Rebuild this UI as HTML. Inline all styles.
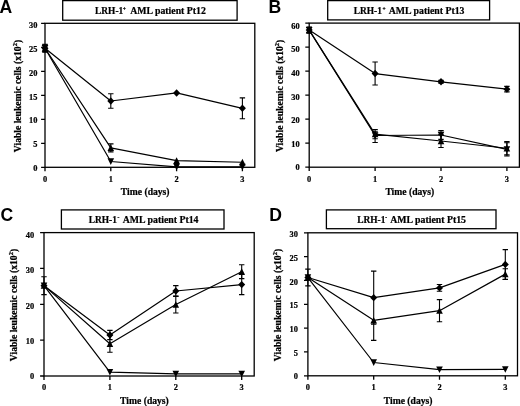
<!DOCTYPE html>
<html><head><meta charset="utf-8"><style>
html,body{margin:0;padding:0;background:#fff;}
body{width:520px;height:406px;overflow:hidden;}
svg{display:block;will-change:transform;}
text{font-family:"Liberation Serif", serif;font-weight:bold;fill:#000;stroke:#000;stroke-width:0.22px;}
.tl{font-size:8.4px;}
.at{font-size:9.65px;}
.sp{font-size:6.5px;}
.tt{font-size:9.4px;}
.tr{font-size:9.8px;}
.ts{font-size:5.5px;}
.lt{stroke-width:0;font-family:"Liberation Sans",sans-serif;font-size:17.6px;font-weight:bold;}
</style></head><body>
<svg width="520" height="406" viewBox="0 0 520 406">
<g><rect x="45" y="23.3" width="209.8" height="144" fill="none" stroke="#000" stroke-width="1.3"/><text x="37.4" y="170.8" class="tl" text-anchor="end">0</text><text x="37.4" y="147.04" class="tl" text-anchor="end">5</text><text x="37.4" y="123.28" class="tl" text-anchor="end">10</text><text x="37.4" y="99.53" class="tl" text-anchor="end">15</text><text x="37.4" y="75.77" class="tl" text-anchor="end">20</text><text x="37.4" y="52.01" class="tl" text-anchor="end">25</text><text x="37.4" y="28.25" class="tl" text-anchor="end">30</text><text x="45" y="181.6" class="tl" text-anchor="middle">0</text><text x="110.8" y="181.6" class="tl" text-anchor="middle">1</text><text x="176.6" y="181.6" class="tl" text-anchor="middle">2</text><text x="242.4" y="181.6" class="tl" text-anchor="middle">3</text><path d="M41.1 167.3H45M41.1 143.3H45M41.1 119.3H45M41.1 95.3H45M41.1 71.3H45M41.1 47.3H45M41.1 23.3H45M45 167.3V171.2M110.8 167.3V171.2M176.6 167.3V171.2M242.4 167.3V171.2" stroke="#000" stroke-width="1.3" fill="none"/><text x="145.2" y="195.2" class="at" text-anchor="middle">Time (days)</text><text transform="translate(20.5 96) rotate(-90)" class="at" text-anchor="middle">Viable leukemic cells (x10<tspan class="sp" dy="-3.5">2</tspan><tspan dy="3.5">)</tspan></text><rect x="62.7" y="0.6" width="174.4" height="19.6" fill="#fff" stroke="#000" stroke-width="1.3"/><text y="14.3" class="tt"><tspan x="95.1">LRH-1</tspan><tspan class="ts" x="122.8" dy="-3.4">+</tspan><tspan class="tr" x="130.2" dy="3.4">AML patient Pt12</tspan></text><text x="-0.5" y="12.6" class="lt">A</text><polyline points="45,48.26 110.8,101.01 176.6,92.95 242.4,108.31" fill="none" stroke="#000" stroke-width="1.2" stroke-linejoin="round"/><polyline points="45,48.26 110.8,147.91 176.6,160.58 242.4,162.26" fill="none" stroke="#000" stroke-width="1.2" stroke-linejoin="round"/><polyline points="45,48.26 110.8,161.49 176.6,166.82 242.4,166.82" fill="none" stroke="#000" stroke-width="1.2" stroke-linejoin="round"/><path d="M45 44.32V52.2M42.3 44.32H47.7M42.3 52.2H47.7M110.8 93.81V108.21M108.1 93.81H113.5M108.1 108.21H113.5M242.4 97.89V118.72M239.7 97.89H245.1M239.7 118.72H245.1" stroke="#000" stroke-width="1.1" fill="none"/><path d="M45 45.28V51.24M42.3 45.28H47.7M42.3 51.24H47.7M110.8 143.92V151.89M108.1 143.92H113.5M108.1 151.89H113.5" stroke="#000" stroke-width="1.1" fill="none"/><path d="M45 44.9V51.62M42.3 44.9H47.7M42.3 51.62H47.7" stroke="#000" stroke-width="1.1" fill="none"/><polygon points="45,44.56 48.5,48.26 45,51.96 41.5,48.26"/><polygon points="110.8,97.31 114.3,101.01 110.8,104.71 107.3,101.01"/><polygon points="176.6,89.25 180.1,92.95 176.6,96.65 173.1,92.95"/><polygon points="242.4,104.61 245.9,108.31 242.4,112.01 238.9,108.31"/><polygon points="45,44.86 48.3,51.41 41.7,51.41"/><polygon points="110.8,144.51 114.1,151.06 107.5,151.06"/><polygon points="176.6,157.18 179.9,163.73 173.3,163.73"/><polygon points="242.4,158.86 245.7,165.41 239.1,165.41"/><polygon points="41.7,45.11 48.3,45.11 45,51.66"/><polygon points="107.5,158.34 114.1,158.34 110.8,164.89"/><polygon points="173.3,163.67 179.9,163.67 176.6,170.22"/><polygon points="239.1,163.67 245.7,163.67 242.4,170.22"/><polygon points="173.4,163.1 179.4,163.1 178.6,164.5 174.2,164.5"/></g>
<g><rect x="309.2" y="23.1" width="210.2" height="144.1" fill="none" stroke="#000" stroke-width="1.3"/><text x="299.6" y="170.2" class="tl" text-anchor="end">0</text><text x="299.6" y="146.63" class="tl" text-anchor="end">10</text><text x="299.6" y="123.07" class="tl" text-anchor="end">20</text><text x="299.6" y="99.5" class="tl" text-anchor="end">30</text><text x="299.6" y="75.93" class="tl" text-anchor="end">40</text><text x="299.6" y="52.37" class="tl" text-anchor="end">50</text><text x="299.6" y="28.8" class="tl" text-anchor="end">60</text><text x="309.2" y="181.5" class="tl" text-anchor="middle">0</text><text x="375.1" y="181.5" class="tl" text-anchor="middle">1</text><text x="441" y="181.5" class="tl" text-anchor="middle">2</text><text x="506.9" y="181.5" class="tl" text-anchor="middle">3</text><path d="M305.3 167.2H309.2M305.3 143.18H309.2M305.3 119.17H309.2M305.3 95.15H309.2M305.3 71.13H309.2M305.3 47.12H309.2M305.3 23.1H309.2M309.2 167.2V171.1M375.1 167.2V171.1M441 167.2V171.1M506.9 167.2V171.1" stroke="#000" stroke-width="1.3" fill="none"/><text x="409.75" y="195.1" class="at" text-anchor="middle">Time (days)</text><text transform="translate(282.5 95.85) rotate(-90)" class="at" text-anchor="middle">Viable leukemic cells (x10<tspan class="sp" dy="-3.5">2</tspan><tspan dy="3.5">)</tspan></text><rect x="327.7" y="0.6" width="161.9" height="19.3" fill="#fff" stroke="#000" stroke-width="1.3"/><text y="14.3" class="tt"><tspan x="353.8">LRH-1</tspan><tspan class="ts" x="382.4" dy="-3.4">+</tspan><tspan class="tr" x="388.8" dy="3.4">AML patient Pt13</tspan></text><text x="268.5" y="12.5" class="lt">B</text><polyline points="309.2,30.06 375.1,73.53 441,81.82 506.9,89.15" fill="none" stroke="#000" stroke-width="1.2" stroke-linejoin="round"/><polyline points="309.2,30.06 375.1,135.5 441,135.02 506.9,149.43" fill="none" stroke="#000" stroke-width="1.2" stroke-linejoin="round"/><polyline points="309.2,30.06 375.1,134.18 441,141.02 506.9,148.23" fill="none" stroke="#000" stroke-width="1.2" stroke-linejoin="round"/><path d="M309.2 27.18V32.95M306.5 27.18H311.9M306.5 32.95H311.9M375.1 62.01V85.06M372.4 62.01H377.8M372.4 85.06H377.8M441 80.38V83.26M438.3 80.38H443.7M438.3 83.26H443.7M506.9 86.38V91.91M504.2 86.38H509.6M504.2 91.91H509.6" stroke="#000" stroke-width="1.1" fill="none"/><path d="M309.2 27.18V32.95M306.5 27.18H311.9M306.5 32.95H311.9M375.1 131.9V142.46M372.4 131.9H377.8M372.4 142.46H377.8M441 130.62V139.41M438.3 130.62H443.7M438.3 139.41H443.7M506.9 142.82V156.03M504.2 142.82H509.6M504.2 156.03H509.6" stroke="#000" stroke-width="1.1" fill="none"/><path d="M309.2 27.42V32.71M306.5 27.42H311.9M306.5 32.71H311.9M375.1 129.61V138.74M372.4 129.61H377.8M372.4 138.74H377.8M441 134.61V147.43M438.3 134.61H443.7M438.3 147.43H443.7M506.9 141.62V154.83M504.2 141.62H509.6M504.2 154.83H509.6" stroke="#000" stroke-width="1.1" fill="none"/><polygon points="309.2,26.36 312.7,30.06 309.2,33.76 305.7,30.06"/><polygon points="375.1,69.83 378.6,73.53 375.1,77.23 371.6,73.53"/><polygon points="441,78.12 444.5,81.82 441,85.52 437.5,81.82"/><polygon points="506.9,85.45 510.4,89.15 506.9,92.85 503.4,89.15"/><polygon points="305.9,26.91 312.5,26.91 309.2,33.46"/><polygon points="371.8,132.35 378.4,132.35 375.1,138.9"/><polygon points="437.7,131.87 444.3,131.87 441,138.42"/><polygon points="503.6,146.28 510.2,146.28 506.9,152.83"/><polygon points="309.2,26.66 312.5,33.21 305.9,33.21"/><polygon points="375.1,130.78 378.4,137.33 371.8,137.33"/><polygon points="441,137.62 444.3,144.17 437.7,144.17"/><polygon points="506.9,144.83 510.2,151.38 503.6,151.38"/></g>
<g><rect x="44" y="232.6" width="210.2" height="143.4" fill="none" stroke="#000" stroke-width="1.3"/><text x="34.2" y="379.3" class="tl" text-anchor="end">0</text><text x="34.2" y="343.97" class="tl" text-anchor="end">10</text><text x="34.2" y="308.65" class="tl" text-anchor="end">20</text><text x="34.2" y="273.32" class="tl" text-anchor="end">30</text><text x="34.2" y="238" class="tl" text-anchor="end">40</text><text x="44" y="390.3" class="tl" text-anchor="middle">0</text><text x="109.9" y="390.3" class="tl" text-anchor="middle">1</text><text x="175.8" y="390.3" class="tl" text-anchor="middle">2</text><text x="241.7" y="390.3" class="tl" text-anchor="middle">3</text><path d="M40.1 376H44M40.1 340.15H44M40.1 304.3H44M40.1 268.45H44M40.1 232.6H44M44 376V379.9M109.9 376V379.9M175.8 376V379.9M241.7 376V379.9" stroke="#000" stroke-width="1.3" fill="none"/><text x="144.45" y="403.9" class="at" text-anchor="middle">Time (days)</text><text transform="translate(16.6 305) rotate(-90)" class="at" text-anchor="middle">Viable leukemic cells (x10<tspan class="sp" dy="-3.5">2</tspan><tspan dy="3.5">)</tspan></text><rect x="61.4" y="209.9" width="162.6" height="19.1" fill="#fff" stroke="#000" stroke-width="1.3"/><text y="223.1" class="tt"><tspan x="88.7">LRH-1</tspan><tspan class="ts" x="117.4" dy="-4.5">-</tspan><tspan class="tr" x="122.8" dy="4.5">AML patient Pt14</tspan></text><text x="0.5" y="220.9" class="lt">C</text><polyline points="44,285.66 109.9,334.99 175.8,291 241.7,284.58" fill="none" stroke="#000" stroke-width="1.2" stroke-linejoin="round"/><polyline points="44,285.66 109.9,343.81 175.8,304.55 241.7,271.68" fill="none" stroke="#000" stroke-width="1.2" stroke-linejoin="round"/><polyline points="44,285.66 109.9,372.06 175.8,373.85 241.7,373.85" fill="none" stroke="#000" stroke-width="1.2" stroke-linejoin="round"/><path d="M44 276.7V294.62M41.3 276.7H46.7M41.3 294.62H46.7M109.9 330.33V339.65M107.2 330.33H112.6M107.2 339.65H112.6M175.8 285.62V296.38M173.1 285.62H178.5M173.1 296.38H178.5M241.7 274.54V294.62M239 274.54H244.4M239 294.62H244.4" stroke="#000" stroke-width="1.1" fill="none"/><path d="M109.9 335.31V352.3M107.2 335.31H112.6M107.2 352.3H112.6M175.8 296.09V313.01M173.1 296.09H178.5M173.1 313.01H178.5M241.7 264.76V278.6M239 264.76H244.4M239 278.6H244.4" stroke="#000" stroke-width="1.1" fill="none"/><path d="" stroke="#000" stroke-width="1.1" fill="none"/><polygon points="44,281.96 47.5,285.66 44,289.36 40.5,285.66"/><polygon points="109.9,331.29 113.4,334.99 109.9,338.69 106.4,334.99"/><polygon points="175.8,287.3 179.3,291 175.8,294.7 172.3,291"/><polygon points="241.7,280.88 245.2,284.58 241.7,288.28 238.2,284.58"/><polygon points="44,282.26 47.3,288.81 40.7,288.81"/><polygon points="109.9,340.41 113.2,346.96 106.6,346.96"/><polygon points="175.8,301.15 179.1,307.7 172.5,307.7"/><polygon points="241.7,268.28 245,274.83 238.4,274.83"/><polygon points="40.7,282.51 47.3,282.51 44,289.06"/><polygon points="106.6,368.91 113.2,368.91 109.9,375.46"/><polygon points="172.5,370.7 179.1,370.7 175.8,377.25"/><polygon points="238.4,370.7 245,370.7 241.7,377.25"/></g>
<g><rect x="307.9" y="232.8" width="209.6" height="143" fill="none" stroke="#000" stroke-width="1.3"/><text x="297.9" y="379.3" class="tl" text-anchor="end">0</text><text x="297.9" y="355.63" class="tl" text-anchor="end">5</text><text x="297.9" y="331.97" class="tl" text-anchor="end">10</text><text x="297.9" y="308.3" class="tl" text-anchor="end">15</text><text x="297.9" y="284.63" class="tl" text-anchor="end">20</text><text x="297.9" y="260.97" class="tl" text-anchor="end">25</text><text x="297.9" y="237.3" class="tl" text-anchor="end">30</text><text x="307.9" y="390.1" class="tl" text-anchor="middle">0</text><text x="373.7" y="390.1" class="tl" text-anchor="middle">1</text><text x="439.5" y="390.1" class="tl" text-anchor="middle">2</text><text x="505.3" y="390.1" class="tl" text-anchor="middle">3</text><path d="M304 375.8H307.9M304 351.97H307.9M304 328.13H307.9M304 304.3H307.9M304 280.47H307.9M304 256.63H307.9M304 232.8H307.9M307.9 375.8V379.7M373.7 375.8V379.7M439.5 375.8V379.7M505.3 375.8V379.7" stroke="#000" stroke-width="1.3" fill="none"/><text x="408.1" y="403.7" class="at" text-anchor="middle">Time (days)</text><text transform="translate(280.5 305) rotate(-90)" class="at" text-anchor="middle">Viable leukemic cells (x10<tspan class="sp" dy="-3.5">2</tspan><tspan dy="3.5">)</tspan></text><rect x="326.4" y="209.9" width="169.6" height="18.8" fill="#fff" stroke="#000" stroke-width="1.3"/><text y="223" class="tt"><tspan x="357.2">LRH-1</tspan><tspan class="ts" x="385.3" dy="-4.5">-</tspan><tspan class="tr" x="390.3" dy="4.5">AML patient Pt15</tspan></text><text x="269.2" y="220.8" class="lt">D</text><polyline points="307.9,277.51 373.7,297.63 439.5,287.9 505.3,264.4" fill="none" stroke="#000" stroke-width="1.2" stroke-linejoin="round"/><polyline points="307.9,277.51 373.7,320.36 439.5,310.69 505.3,274.13" fill="none" stroke="#000" stroke-width="1.2" stroke-linejoin="round"/><polyline points="307.9,277.51 373.7,362.5 439.5,369.56 505.3,369.37" fill="none" stroke="#000" stroke-width="1.2" stroke-linejoin="round"/><path d="M307.9 269.17V285.85M305.2 269.17H310.6M305.2 285.85H310.6M373.7 271.17V324.08M371 271.17H376.4M371 324.08H376.4M439.5 284.57V291.24M436.8 284.57H442.2M436.8 291.24H442.2M505.3 249.63V279.18M502.6 249.63H508M502.6 279.18H508" stroke="#000" stroke-width="1.1" fill="none"/><path d="M373.7 320.36V340.38M371 340.38H376.4M439.5 299.58V321.79M436.8 299.58H442.2M436.8 321.79H442.2M505.3 268.79V279.47M502.6 268.79H508M502.6 279.47H508" stroke="#000" stroke-width="1.1" fill="none"/><path d="" stroke="#000" stroke-width="1.1" fill="none"/><polygon points="307.9,273.81 311.4,277.51 307.9,281.21 304.4,277.51"/><polygon points="373.7,293.93 377.2,297.63 373.7,301.33 370.2,297.63"/><polygon points="439.5,284.2 443,287.9 439.5,291.6 436,287.9"/><polygon points="505.3,260.7 508.8,264.4 505.3,268.1 501.8,264.4"/><polygon points="307.9,274.11 311.2,280.66 304.6,280.66"/><polygon points="373.7,316.96 377,323.51 370.4,323.51"/><polygon points="439.5,307.29 442.8,313.84 436.2,313.84"/><polygon points="505.3,270.73 508.6,277.28 502,277.28"/><polygon points="304.6,274.36 311.2,274.36 307.9,280.91"/><polygon points="370.4,359.35 377,359.35 373.7,365.9"/><polygon points="436.2,366.41 442.8,366.41 439.5,372.96"/><polygon points="502,366.22 508.6,366.22 505.3,372.76"/></g>
</svg>
</body></html>
